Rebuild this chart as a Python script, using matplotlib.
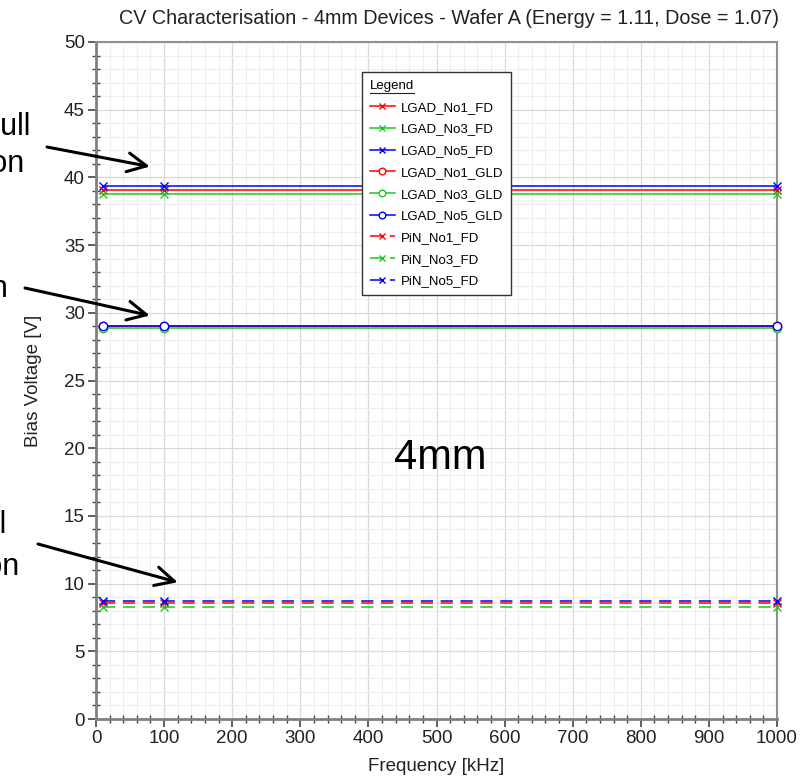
import matplotlib
matplotlib.use("Agg")
from matplotlib import pyplot as plt
from matplotlib.ticker import MultipleLocator
from matplotlib.lines import Line2D

plt.rcParams["font.family"] = ["Liberation Sans", "DejaVu Sans"]

freq = [10, 100, 1000]

lgad_no1_fd = [39.1, 39.1, 39.1]
lgad_no3_fd = [38.8, 38.8, 38.8]
lgad_no5_fd = [39.4, 39.4, 39.4]
lgad_no1_gld = [29.05, 29.05, 29.05]
lgad_no3_gld = [28.9, 28.9, 28.9]
lgad_no5_gld = [29.0, 29.0, 29.0]
pin_no1_fd = [8.55, 8.55, 8.55]
pin_no3_fd = [8.3, 8.3, 8.3]
pin_no5_fd = [8.7, 8.7, 8.7]

series = [
    ("LGAD_No1_FD", lgad_no1_fd, "#ff0000", "x", "-"),
    ("LGAD_No3_FD", lgad_no3_fd, "#1ec81e", "x", "-"),
    ("LGAD_No5_FD", lgad_no5_fd, "#0000ff", "x", "-"),
    ("LGAD_No1_GLD", lgad_no1_gld, "#ff0000", "o", "-"),
    ("LGAD_No3_GLD", lgad_no3_gld, "#1ec81e", "o", "-"),
    ("LGAD_No5_GLD", lgad_no5_gld, "#0000ff", "o", "-"),
    ("PiN_No1_FD", pin_no1_fd, "#ff0000", "x", (0, (8, 5))),
    ("PiN_No3_FD", pin_no3_fd, "#1ec81e", "x", (0, (8, 5))),
    ("PiN_No5_FD", pin_no5_fd, "#0000ff", "x", (0, (8, 5))),
]

W, H = 811, 780
fig = plt.figure(figsize=(W / 100, H / 100), dpi=100)
ax = fig.add_axes([96 / W, 61 / H, 681 / W, 677 / H])

for name, vals, col, mk, ls in series:
    ax.plot(freq, vals, color=col, marker=mk, linestyle=ls, linewidth=1.1,
            markersize=6, markerfacecolor="white" if mk == "o" else col,
            markeredgewidth=1.0, label=name, clip_on=False, zorder=3)

ax.set_xlim(0, 1000)
ax.set_ylim(0, 50)
ax.xaxis.set_major_locator(MultipleLocator(100))
ax.xaxis.set_minor_locator(MultipleLocator(20))
ax.yaxis.set_major_locator(MultipleLocator(5))
ax.yaxis.set_minor_locator(MultipleLocator(1))
ax.grid(which="major", color="#d9d9d9", linewidth=0.9)
ax.grid(which="minor", color="#eeeeee", linewidth=0.8)
ax.set_axisbelow(True)

for s in ["left", "bottom"]:
    ax.spines[s].set_color("#808080")
    ax.spines[s].set_linewidth(2.0)
for s in ["top", "right"]:
    ax.spines[s].set_color("#909090")
    ax.spines[s].set_linewidth(1.5)

ax.tick_params(which="major", direction="out", length=6, width=1.2,
               color="#444444", labelsize=13.5, labelcolor="#222222", pad=2)
ax.tick_params(which="minor", direction="inout", length=6, width=1.0,
               color="#444444")

ax.set_xlabel("Frequency [kHz]", fontsize=13.5, color="#222222", labelpad=8)
ax.set_ylabel("Bias Voltage [V]", fontsize=13.5, color="#222222", labelpad=16)

fig.text(449 / W, 1 - 18 / H,
         "CV Characterisation - 4mm Devices - Wafer A (Energy = 1.11, Dose = 1.07)",
         ha="center", va="center", fontsize=14.2, color="#222222")

ax.text(505, 19.3, "4mm", fontsize=30, ha="center", va="center", color="black")

leg = ax.legend(loc="upper left", bbox_to_anchor=(362 / W, 1 - 72 / H),
                bbox_transform=fig.transFigure, borderaxespad=0,
                fontsize=9.5, title="Legend", title_fontsize=9.5, alignment="left",
                fancybox=False, framealpha=1, edgecolor="#333333",
                labelspacing=0.72, handlelength=1.9, handletextpad=0.45,
                numpoints=1, borderpad=0.6, markerscale=0.8)
leg.get_frame().set_linewidth(1.0)

# annotations, text partly outside the left edge
def fpx(x, y):
    return (x / W, 1 - y / H)

txt = dict(fontsize=22, ha="right", va="baseline", color="black")
fig.text(*fpx(30, 135), "LGAD Full", **txt)
fig.text(*fpx(25, 172), "Depletion", **txt)
fig.text(*fpx(8, 297), "Gain Layer Depletion", **txt)
fig.text(*fpx(6, 533), "PiN Full", **txt)
fig.text(*fpx(20, 575), "Depletion", **txt)

arrow = dict(arrowstyle="->", color="black", lw=2.2, mutation_scale=34,
             shrinkA=0, shrinkB=0)
ax.annotate("", xy=(79, 40.8), xycoords="data",
            xytext=fpx(47, 147), textcoords="figure fraction", arrowprops=arrow)
ax.annotate("", xy=(79, 29.8), xycoords="data",
            xytext=fpx(25, 288), textcoords="figure fraction", arrowprops=arrow)
ax.annotate("", xy=(120, 10.1), xycoords="data",
            xytext=fpx(38, 544), textcoords="figure fraction", arrowprops=arrow)

# underline the legend title
fig.canvas.draw()
bb = leg.get_title().get_window_extent()
y0 = bb.y0 - 1
fig.add_artist(Line2D([bb.x0 / W, bb.x1 / W], [y0 / H, y0 / H],
                      transform=fig.transFigure, color="#222222", lw=0.8))

plt.savefig("out.png", dpi=100)
